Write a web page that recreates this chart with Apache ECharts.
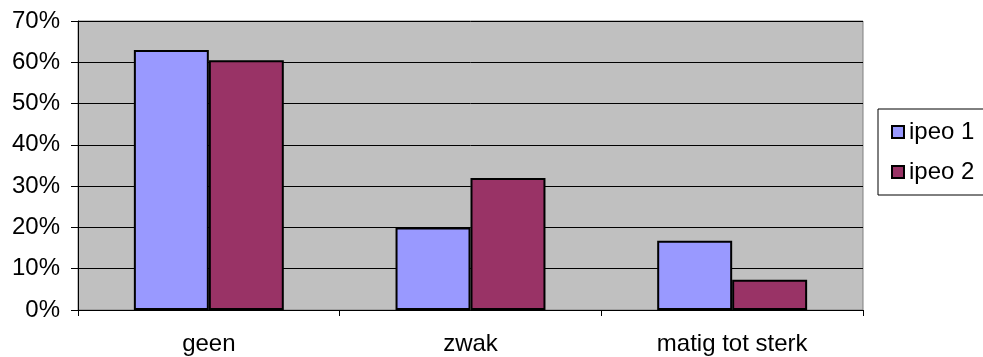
<!DOCTYPE html>
<html><head><meta charset="utf-8">
<script src="https://cdn.jsdelivr.net/npm/echarts@6/dist/echarts.min.js"></script>
<style>html,body{margin:0;padding:0;background:#fff}#c{width:983px;height:357px}</style>
</head><body><div id="c"></div>
<script>
const categories = ['geen', 'zwak', 'matig tot sterk'];
const ipeo1 = [63, 20, 16.8];
const ipeo2 = [60.5, 32, 7.3];
const seriesNames = ['ipeo 1', 'ipeo 2'];
const yTicks = {min: 0, max: 70, interval: 10};

const chart = echarts.init(document.getElementById('c'));
const font = 'Liberation Sans, Arial, sans-serif';
chart.setOption({
  animation: false,
  grid: {left: 78, right: 120, top: 21, bottom: 47, show: true, backgroundColor: '#C0C0C0', borderColor: '#808080', borderWidth: 1},
  legend: {
    orient: 'vertical', left: 878, top: 109,
    padding: [11, 30, 11, 13], itemGap: 16,
    borderColor: '#000', borderWidth: 1, backgroundColor: '#fff',
    itemWidth: 12, itemHeight: 12, icon: 'rect',
    textStyle: {fontFamily: font, fontSize: 24, color: '#000', lineHeight: 24},
    data: seriesNames
  },
  xAxis: {
    type: 'category', data: categories,
    axisLine: {lineStyle: {color: '#000', width: 1}},
    axisTick: {show: true, length: 6, lineStyle: {color: '#000'}},
    axisLabel: {fontFamily: font, fontSize: 24, color: '#000', margin: 22}
  },
  yAxis: {
    type: 'value', min: yTicks.min, max: yTicks.max, interval: yTicks.interval,
    axisLine: {show: true, lineStyle: {color: '#000'}},
    axisTick: {show: true, length: 7, lineStyle: {color: '#000'}},
    splitLine: {show: true, lineStyle: {color: '#000', width: 1}},
    axisLabel: {formatter: '{value}%', fontFamily: font, fontSize: 24, color: '#000', margin: 18}
  },
  series: [
    {name: seriesNames[0], type: 'bar', data: ipeo1, barGap: '0%', barCategoryGap: '42.7%',
     itemStyle: {color: '#9999FF', borderColor: '#000', borderWidth: 2}},
    {name: seriesNames[1], type: 'bar', data: ipeo2,
     itemStyle: {color: '#993366', borderColor: '#000', borderWidth: 2}}
  ]
});
</script></body></html>
